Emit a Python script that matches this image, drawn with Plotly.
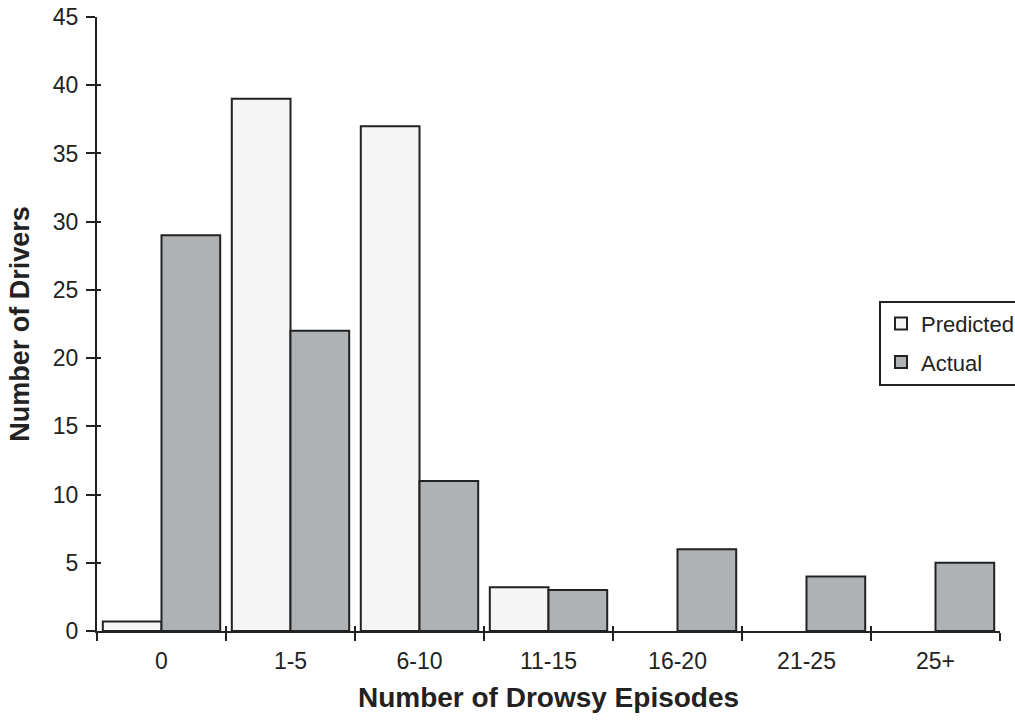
import plotly.graph_objects as go

categories = ["0", "1-5", "6-10", "11-15", "16-20", "21-25", "25+"]
predicted = [0.7, 39, 37, 3.2, None, None, None]
actual = [29, 22, 11, 3, 6, 4, 5]

font = "Liberation Sans, Arial, sans-serif"

fig = go.Figure()
fig.add_trace(go.Bar(x=categories, y=predicted, name="Predicted", legendgroup="p",
                     marker=dict(color="#f5f5f5", line=dict(color="#222222", width=2))))
fig.add_trace(go.Bar(x=categories, y=actual, name="Actual", legendgroup="a",
                     marker=dict(color="#afb2b4", line=dict(color="#222222", width=2))))

fig.update_layout(
    width=1015, height=728,
    margin=dict(l=97, r=15, t=17, b=97, autoexpand=False),
    plot_bgcolor="white", paper_bgcolor="white",
    barmode="group", bargap=0.09, bargroupgap=0,
    font=dict(family=font, size=22, color="#222222"),
    legend=dict(x=0.866, y=0.538, xanchor="left", yanchor="top",
                bordercolor="#222222", borderwidth=2, bgcolor="white",
                font=dict(size=22), traceorder="grouped", tracegroupgap=7, itemwidth=30),
    xaxis=dict(
        type="category", range=[-0.5, 6.5], automargin=False,
        showline=True, linecolor="#222222", linewidth=2,
        ticks="outside", tickson="boundaries", ticklen=8, tickwidth=2, tickcolor="#222222",
        showgrid=False, zeroline=False, ticklabelstandoff=8,
        title=dict(text="<b>Number of Drowsy Episodes</b>", font=dict(size=28), standoff=15),
        tickfont=dict(size=23),
    ),
    yaxis=dict(
        range=[0, 45], dtick=5, automargin=False,
        showline=True, linecolor="#222222", linewidth=2,
        ticks="outside", ticklen=9, tickwidth=2, tickcolor="#222222",
        showgrid=False, zeroline=False, ticklabelstandoff=3,
        title=dict(text="<b>Number of Drivers</b>", font=dict(size=27), standoff=15),
        tickfont=dict(size=23),
    ),
    xaxis2=dict(type="category", range=[-0.5, 6.5], overlaying="x", matches="x",
                ticks="inside", tickson="boundaries", ticklen=5, tickwidth=2, tickcolor="#222222",
                showticklabels=False, showgrid=False, zeroline=False, showline=False,
                categoryarray=categories, categoryorder="array"),
    yaxis2=dict(range=[0, 45], dtick=5, overlaying="y",
                ticks="inside", ticklen=4, tickwidth=2, tickcolor="#222222",
                showticklabels=False, showgrid=False, zeroline=False, showline=False),
)
fig.add_trace(go.Scatter(x=categories, y=actual, xaxis="x2", yaxis="y2",
                         mode="markers", marker=dict(opacity=0), showlegend=False,
                         hoverinfo="skip"))

fig.write_html("out.html", config={"displayModeBar": False},
               post_script="document.body.style.margin='0';document.body.style.overflow='hidden';")
